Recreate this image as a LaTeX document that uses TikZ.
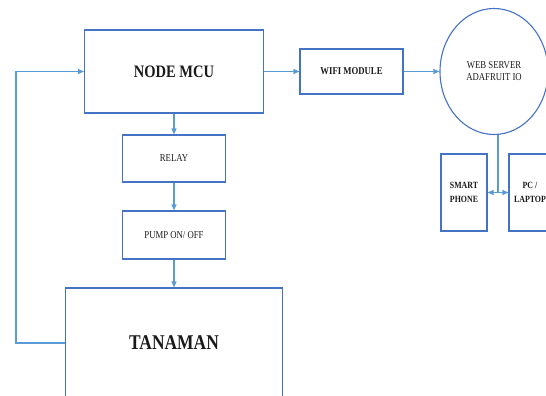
\documentclass[tikz,border=0pt]{standalone}
\usepackage{fontspec}
\setmainfont[FakeStretch=0.83]{Liberation Serif}
\usetikzlibrary{arrows.meta,shapes.geometric}
\definecolor{boxblue}{HTML}{4472C4}
\definecolor{arrblue}{HTML}{5B9BD5}
\definecolor{txt}{HTML}{1A1A1A}
\begin{document}
\begin{tikzpicture}[x=1pt,y=-1pt,
  blk/.style={draw=boxblue,line width=1.1pt,rectangle,inner sep=0pt,align=center,text=txt},
  conn/.style={draw=arrblue,line width=1.1pt},
  arr/.style={conn,-{Triangle[length=6pt,width=5pt]}},
  darr/.style={conn,{Triangle[length=6pt,width=5pt]}-{Triangle[length=6pt,width=5pt]}}]
\useasboundingbox (0,0) rectangle (546,396);
\node[blk,minimum width=179pt,minimum height=83pt,font=\fontsize{17.5}{20}\selectfont\bfseries] (mcu) at (174,71.5) {NODE MCU};
\node[blk,minimum width=103pt,minimum height=45pt,font=\fontsize{10.5}{12}\selectfont\bfseries] (wifi) at (351.5,71.5) {WIFI MODULE};
\node[ellipse,draw=boxblue,line width=1.1pt,minimum width=108pt,minimum height=126pt,inner sep=0pt,align=center,text=txt,font=\fontsize{10.5}{12}\selectfont] (web) at (494,71.5) {WEB SERVER\\ADAFRUIT IO};
\node[blk,minimum width=103pt,minimum height=47pt,font=\fontsize{10.5}{12}\selectfont] (relay) at (174,158.5) {RELAY};
\node[blk,minimum width=103pt,minimum height=48pt,font=\fontsize{10.5}{12}\selectfont] (pump) at (174,235) {PUMP ON/ OFF};
\node[blk,minimum width=217pt,minimum height=110pt,font=\fontsize{21}{24}\selectfont\bfseries] (tanaman) at (174,343) {TANAMAN};
\node[blk,minimum width=46pt,minimum height=77pt,font=\fontsize{9.5}{13.5}\selectfont\bfseries] (smart) at (464,192.5) {SMART\\PHONE};
\node[blk,minimum width=42pt,minimum height=77pt,font=\fontsize{9.5}{13.5}\selectfont\bfseries] (pc) at (530,192.5) {PC /\\LAPTOP};
\coordinate (lp) at (16,343);
\coordinate (j) at (498,192.5);
\draw[arr] (tanaman.west) -- (lp) |- (mcu.west);
\draw[arr] (mcu.east) -- (wifi.west);
\draw[arr] (wifi.east) -- (web.west);
\draw[arr] (mcu.south) -- (relay.north);
\draw[arr] (relay.south) -- (pump.north);
\draw[arr] (pump.south) -- (tanaman.north);
\draw[conn] (j |- web.south) -- (j);
\draw[darr] (smart.east) -- (pc.west);
\end{tikzpicture}
\end{document}
